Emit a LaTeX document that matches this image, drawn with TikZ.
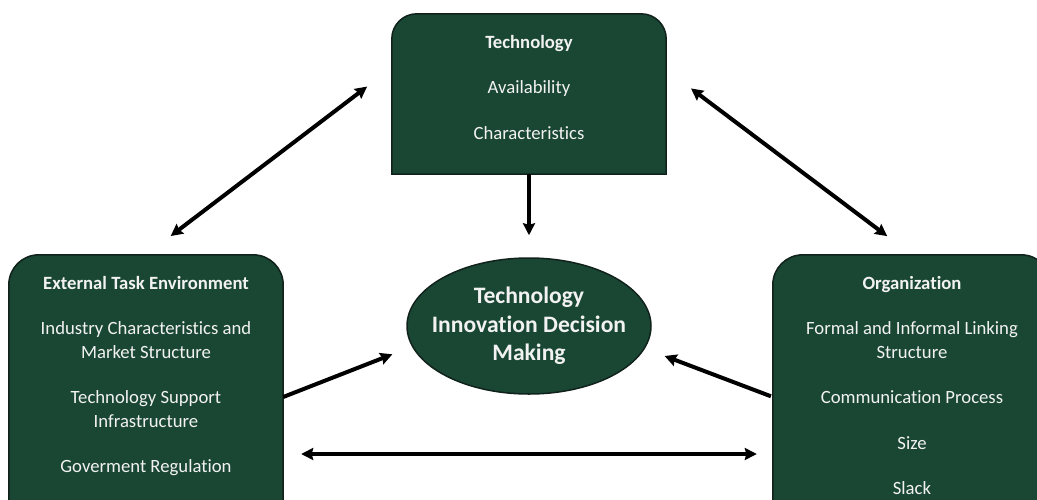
\documentclass[tikz,border=0pt]{standalone}
\usepackage{fontspec}
\setmainfont{Carlito}[Ligatures=CommonOff]
\usetikzlibrary{arrows.meta,shapes.geometric,calc}

\definecolor{boxgreen}{RGB}{26,71,52}
\definecolor{boxedge}{RGB}{16,34,27}
\definecolor{boxtext}{RGB}{242,242,242}

\tikzset{
  frame/.style={rectangle, draw=none, inner sep=0pt},
  boxfill/.style={fill=boxgreen, draw=boxedge, line width=1.5pt},
  boxtxt/.style={text=boxtext, align=center, inner sep=0pt, anchor=north,
    font=\fontsize{18.7}{23.5}\selectfont},
  tip/.tip={Stealth[length=12pt,width=12pt,inset=1.5pt]},
  biarrow/.style={line width=4pt, tip-tip},
  onearrow/.style={line width=4pt, -tip},
}

% rectangle with rounded top corners drawn on the frame of a named node
\newcommand\roundtopbox[2]{%
  \draw[boxfill] (#1.south west) -- ([yshift=-#2]#1.north west)
    arc[start angle=180, end angle=90, radius=#2]
    -- ([xshift=-#2]#1.north east)
    arc[start angle=90, end angle=0, radius=#2]
    -- (#1.south east) -- cycle;}

\begin{document}
\begin{tikzpicture}[x=1pt,y=-1pt]
\useasboundingbox (0,0) rectangle (1037,499);
\clip (0,0) rectangle (1037,499);

% frames of the three boxes
\node[frame, minimum width=274pt, minimum height=160pt] (tech) at (529,94) {};
\node[frame, minimum width=274pt, minimum height=284pt] (ext) at (146,397) {};
\node[frame, minimum width=278pt, minimum height=284pt] (org) at (912,397) {};

\roundtopbox{tech}{25pt}
\roundtopbox{ext}{30pt}
\roundtopbox{org}{30pt}

% box contents
\node[boxtxt] (tech-text) at (529,35)
  {\textbf{Technology}\\[22pt]Availability\\[22pt]Characteristics};
\node[boxtxt] (ext-text) at (146,276)
  {\textbf{External Task Environment}\\[22pt]Industry Characteristics and\\Market Structure\\[22pt]Technology Support\\Infrastructure\\[22pt]Goverment Regulation};
\node[boxtxt] (org-text) at (912,276)
  {\textbf{Organization}\\[22pt]Formal and Informal Linking\\Structure\\[22pt]Communication Process\\[22pt]Size\\[22pt]Slack};

% central decision
\node[ellipse, fill=boxgreen, draw=boxedge, line width=1.5pt,
  minimum width=244pt, minimum height=136pt, inner sep=0pt]
  (dec) at (529,326) {};
\node[text=boxtext, align=center, inner sep=0pt,
  font=\bfseries\fontsize{23.6}{28.3}\selectfont]
  (dec-text) at (dec.center) {Technology\\Innovation Decision\\Making};

% connectors
\draw[onearrow, shorten >=22pt] (tech.south) -- (dec.north);
\draw[biarrow, shorten <=31pt, shorten >=31pt]
  (ext.north) -- ([yshift=-54pt]tech.north west);
\draw[biarrow, shorten <=31pt, shorten >=31pt]
  ([yshift=-56pt]tech.north east) -- (org.north);
\draw[onearrow, shorten >=21pt] (ext.east) -- (dec.190.6);
\draw[onearrow, shorten <=2pt, shorten >=21pt] (org.west) -- (dec.349.4);
\draw[biarrow, shorten <=18pt, shorten >=16pt]
  ([yshift=-57pt]ext.east) -- ([yshift=-57pt]org.west);
\end{tikzpicture}
\end{document}
